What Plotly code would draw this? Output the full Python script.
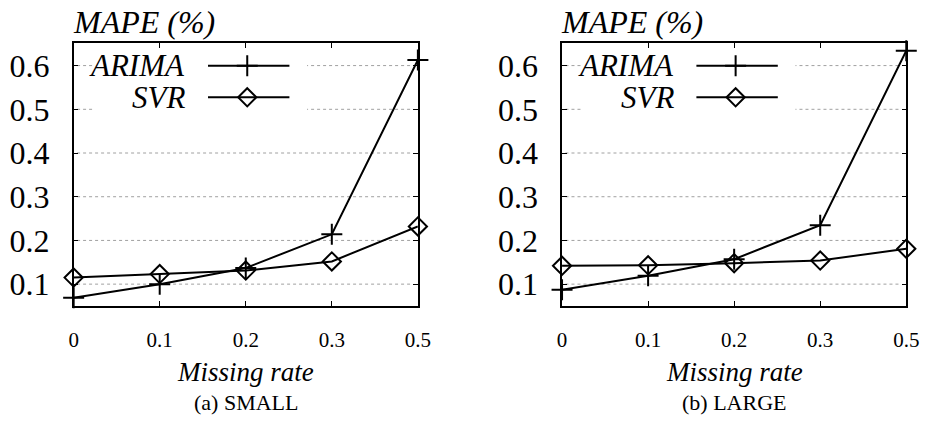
import plotly.graph_objects as go

rates = ["0", "0.1", "0.2", "0.3", "0.5"]
small_arima = [0.069, 0.100, 0.137, 0.214, 0.613]
small_svr = [0.115, 0.123, 0.131, 0.152, 0.232]
large_arima = [0.087, 0.119, 0.157, 0.235, 0.634]
large_svr = [0.142, 0.143, 0.148, 0.154, 0.181]
y_ticks = [0.1, 0.2, 0.3, 0.4, 0.5, 0.6]
panel_titles = ["(a) SMALL", "(b) LARGE"]
legend_names = ["ARIMA", "SVR"]

W, H = 933, 423
FONT = "Liberation Serif"
domains = [(70 / W, 421 / W), (568 / W, 919 / W)]
ydom = (1 - 306 / H, 1 - 43.3 / H)

fig = go.Figure()

styles = {
    "ARIMA": dict(symbol="cross-thin", size=15, line=dict(width=2, color="black"), color="black"),
    "SVR": dict(symbol="diamond-open", size=14, line=dict(width=2, color="black"), color="black"),
}

data = [(small_arima, small_svr), (large_arima, large_svr)]

for i, (ar, sv) in enumerate(data):
    xa = "x" if i == 0 else "x2"
    ya = "y" if i == 0 else "y2"
    for name, vals in zip(legend_names, (ar, sv)):
        fig.add_trace(go.Scatter(
            x=rates, y=vals, mode="lines+markers", name=name,
            line=dict(color="black", width=2),
            marker=styles[name], xaxis=xa, yaxis=ya, showlegend=False,
            cliponaxis=False,
        ))

axis_common = dict(
    showline=True, linecolor="black", linewidth=1.5, mirror="allticks",
    ticks="inside", ticklen=5, tickcolor="black", tickwidth=1,
    zeroline=False, showgrid=False,
)

for i in range(2):
    sfx = "" if i == 0 else "2"
    fig.layout["xaxis" + sfx] = dict(
        axis_common, domain=domains[i], anchor="y" + sfx, type="category",
        range=[0, 4],
        tickfont=dict(family=FONT, size=21, color="black"),
        ticklabelstandoff=14,
    )
    fig.layout["yaxis" + sfx] = dict(
        axis_common, domain=ydom, anchor="x" + sfx, range=[0.05, 0.651],
        tickvals=y_ticks, ticktext=[f"{v:.1f}" for v in y_ticks],
        tickfont=dict(family=FONT, size=32, color="black"),
        ticklabelstandoff=16,
    )
    # dotted grid lines as shapes below the traces
    for v in y_ticks:
        fig.add_shape(type="line", xref=f"x{sfx} domain", yref=f"y{sfx}",
                      x0=0.01, x1=0.985, y0=v, y1=v,
                      line=dict(color="#a0a0a0", width=1, dash="dot"), layer="below")
    # white legend box over the grid
    fig.add_shape(type="rect", xref=f"x{sfx} domain", yref=f"y{sfx} domain",
                  x0=20 / 351, x1=238 / 351, y0=(306 - 116) / 262.7, y1=0.995,
                  fillcolor="white", line=dict(width=0), layer="below")
    # legend overlay axes
    xo, yo = str(3 + i), str(3 + i)
    fig.layout["xaxis" + xo] = dict(overlaying="x" + sfx, range=[0, 1], visible=False,
                                    anchor="y" + yo, fixedrange=True)
    fig.layout["yaxis" + yo] = dict(overlaying="y" + sfx, range=[0, 1], visible=False,
                                    anchor="x" + xo, fixedrange=True)
    rows = [(306 - 65.7) / 262.7, (306 - 97.3) / 262.7]
    for name, yy in zip(legend_names, rows):
        fig.add_trace(go.Scatter(
            x=[137 / 351, 220 / 351], y=[yy, yy], mode="lines",
            line=dict(color="black", width=2), showlegend=False,
            xaxis="x" + xo, yaxis="y" + yo, hoverinfo="skip",
        ))
        fig.add_trace(go.Scatter(
            x=[177 / 351], y=[yy], mode="markers", marker=styles[name],
            showlegend=False, xaxis="x" + xo, yaxis="y" + yo,
            hoverinfo="skip", cliponaxis=False,
        ))
        fig.add_annotation(
            text=f"<i>{name}</i>", xref=f"x{sfx} domain", yref=f"y{sfx} domain",
            x=116 / 351, y=yy, xanchor="right", yanchor="middle", showarrow=False,
            font=dict(family=FONT, size=31, color="black"),
        )
    fig.add_annotation(
        text="<i>MAPE (%)</i>", xref="paper", yref="paper",
        x=domains[i][0] - 3 / W, y=1 - 22 / H, xanchor="left", yanchor="middle",
        showarrow=False, font=dict(family=FONT, size=32, color="black"),
    )
    cx = (domains[i][0] + domains[i][1]) / 2
    fig.add_annotation(
        text="<i>Missing rate</i>", xref="paper", yref="paper",
        x=cx, y=1 - 372 / H, xanchor="center", yanchor="middle",
        showarrow=False, font=dict(family=FONT, size=27, color="black"),
    )
    fig.add_annotation(
        text=panel_titles[i], xref="paper", yref="paper",
        x=cx, y=1 - 402 / H, xanchor="center", yanchor="middle",
        showarrow=False, font=dict(family=FONT, size=22, color="black"),
    )

fig.update_layout(
    width=W, height=H, margin=dict(l=0, r=0, t=0, b=0),
    paper_bgcolor="white", plot_bgcolor="white", showlegend=False,
)

fig.write_html("out.html")
